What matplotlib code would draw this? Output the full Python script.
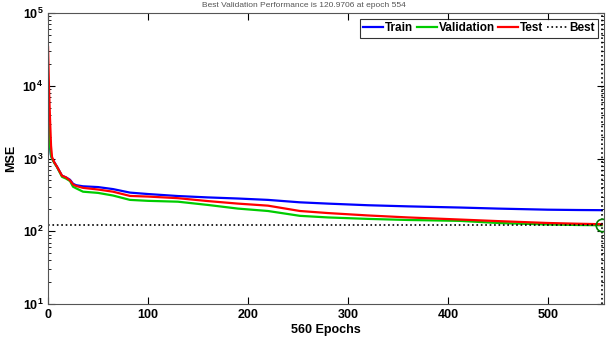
import matplotlib.pyplot as plt

plt.rcParams['font.family'] = ['Liberation Sans', 'DejaVu Sans']

epochs = [0, 1, 2, 3, 4, 6, 9, 14, 18, 22, 25, 28, 35, 50, 65, 82, 100, 130,
          160, 190, 220, 252, 280, 320, 360, 412, 450, 500, 530, 554]
train = [3000, 2000, 1400, 1100, 1000, 900, 770, 580, 550, 510, 450, 430, 415,
         405, 380, 340, 325, 305, 292, 282, 270, 250, 240, 228, 220, 212, 205,
         198, 196, 195]
valid = [4000, 2500, 1500, 1100, 1000, 880, 760, 560, 530, 490, 410, 390, 350,
         337, 310, 270, 262, 255, 230, 205, 190, 163, 155, 148, 143, 139, 130,
         124, 122, 121]
test = [34000, 9000, 3500, 1500, 1050, 900, 770, 580, 550, 500, 440, 420, 395,
        375, 350, 306, 300, 285, 260, 240, 225, 190, 178, 165, 155, 145, 138,
        130, 127, 125]
best_epoch = 554
best_value = 121

fig = plt.figure(figsize=(6.08, 3.42), dpi=100)
ax = fig.add_axes([0.079, 0.111, 0.914, 0.851])

ax.plot(epochs, train, color=(0, 0, 1), lw=1.6, label="Train")
ax.plot(epochs, valid, color=(0, 0.8, 0), lw=1.6, label="Validation")
ax.plot(epochs, test, color=(1, 0, 0), lw=1.6, label="Test")
ax.axhline(best_value, color="black", ls=":", lw=1.2, label="Best")
ax.axvline(best_epoch, color="black", ls=":", lw=1.2)
ax.plot(best_epoch, best_value, "o", mfc="none", mec=(0, 0.5, 0), ms=9, mew=1.2)

ax.set_yscale("log")
ax.set_ylim(10, 1e5)
ax.set_xlim(0, 556)
ax.set_xticks([0, 100, 200, 300, 400, 500])
ax.tick_params(which="both", direction="in", top=True, right=True, labelsize=9)
ax.tick_params(which="major", length=5)
ax.tick_params(which="minor", length=2.5)
for lab in ax.get_xticklabels() + ax.get_yticklabels():
    lab.set_fontweight("bold")
for sp in ax.spines.values():
    sp.set_color("#555555")
    sp.set_linewidth(0.8)

ax.set_xlabel("560 Epochs", fontsize=9, fontweight="bold", labelpad=2)
ax.set_ylabel("MSE", fontsize=9, fontweight="bold", labelpad=4)
fig.text(0.5, 0.975, "Best Validation Performance is 120.9706 at epoch 554",
         ha="center", va="bottom", fontsize=6, color="#555555")

leg = ax.legend(loc="upper right", ncol=4, handlelength=1.7,
                handletextpad=0.15, columnspacing=0.3, borderpad=0.3,
                borderaxespad=0.5, fancybox=False, prop={"weight": "bold", "size": 8.5})
leg.get_frame().set_edgecolor("black")
leg.get_frame().set_linewidth(0.8)

fig.savefig("out.png", dpi=100)
